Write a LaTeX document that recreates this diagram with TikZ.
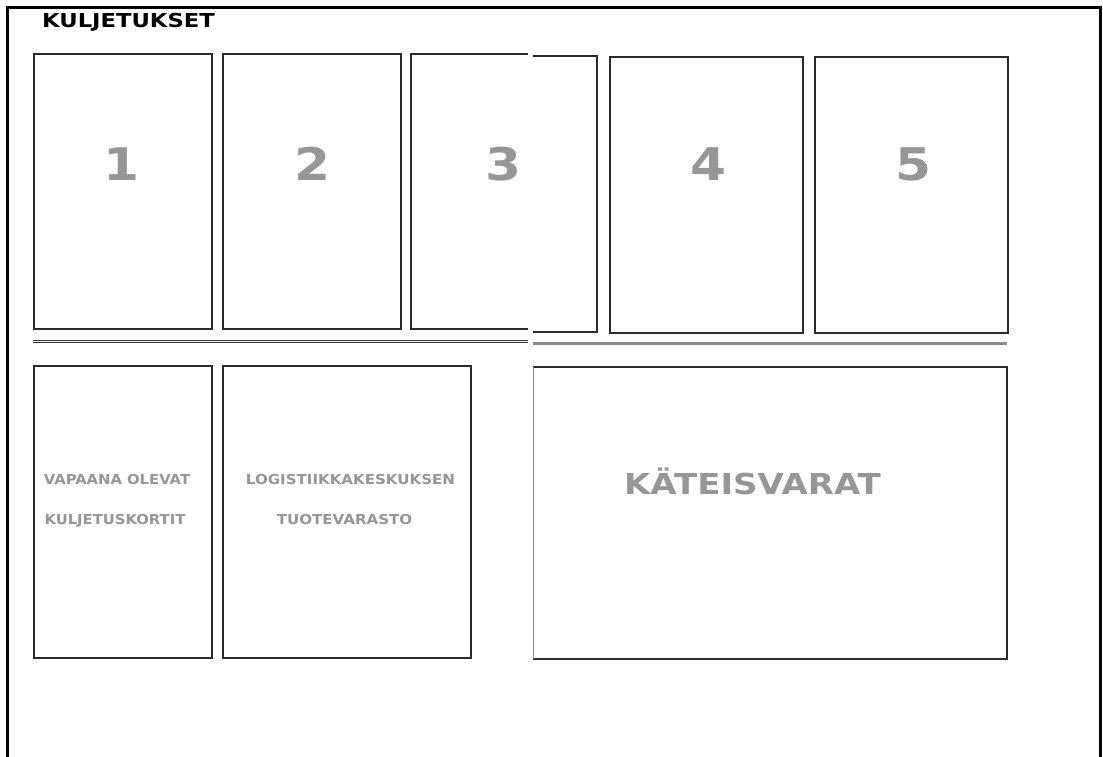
\documentclass[tikz,border=0pt]{standalone}
\usepackage{fontspec}
\setmainfont{DejaVu Sans}
\definecolor{boxline}{HTML}{2B2B2B}
\definecolor{txtgray}{HTML}{969696}
\definecolor{rulegray}{HTML}{8A8A8A}
\begin{document}
\begin{tikzpicture}[x=1pt,y=-1pt,
  cell/.style={draw=boxline,line width=2pt,anchor=north west,inner sep=0pt},
  num/.style={text=txtgray,anchor=base,inner sep=0pt,font=\bfseries\fontsize{45}{45}\selectfont},
  lbl/.style={text=txtgray,anchor=base,inner sep=0pt,font=\bfseries\fontsize{13.7}{14}\selectfont},
  big/.style={text=txtgray,anchor=base,inner sep=0pt,font=\bfseries\fontsize{28.8}{29}\selectfont},
  title/.style={text=black,anchor=base,inner sep=0pt,font=\bfseries\fontsize{19.2}{20}\selectfont}]
\useasboundingbox (0,0) rectangle (1103,756);
\fill[white] (0,0) rectangle (1103,756);
% outer frame
\draw[black,line width=3pt] (7.5,760) -- (7.5,7) -- (1100,7) -- (1100,760);
% title
\node[title] (title) at (128.5,27) {\scalebox{1.18}[1]{KULJETUKSET}};
% top row boxes
\node[cell,minimum width=178,minimum height=275] (b1) at (33,53) {};
\node[cell,minimum width=178,minimum height=275] (b2) at (222,53) {};
\node[cell,minimum width=193,minimum height=276] (b4) at (609,56) {};
\node[cell,minimum width=193,minimum height=276] (b5) at (814,56) {};
% split box 3
\coordinate (b3a) at (527.5,54);
\coordinate (b3b) at (411,54);
\coordinate (b3c) at (411,329);
\coordinate (b3d) at (527.5,329);
\draw[boxline,line width=2pt] (b3a) -- (b3b) -- (b3c) -- (b3d);
\coordinate (b3e) at (533,55.5);
\coordinate (b3f) at (597,55.5);
\coordinate (b3g) at (597,332);
\coordinate (b3h) at (533,332);
\draw[boxline,line width=2pt] (b3e) -- (b3f) -- (b3g) -- (b3h);
% numbers
\node[num] (n1) at (122,180) {\scalebox{1.15}[1]{1}};
\node[num] (n2) at (313,180) {\scalebox{1.15}[1]{2}};
\node[num] (n3) at (503,180) {\scalebox{1.15}[1]{3}};
\node[num] (n4) at (708.5,180) {\scalebox{1.15}[1]{4}};
\node[num] (n5) at (913,180) {\scalebox{1.15}[1]{5}};
% separators
\coordinate (s1a) at (33,340.6);
\coordinate (s1b) at (527.5,340.6);
\coordinate (s2a) at (33,342.6);
\coordinate (s2b) at (527.5,342.6);
\draw[boxline,line width=1pt] (s1a) -- (s1b);
\draw[boxline,line width=0.8pt] (s2a) -- (s2b);
\coordinate (s3a) at (533,343.5);
\coordinate (s3b) at (1007,343.5);
\draw[rulegray,line width=3pt] (s3a) -- (s3b);
% bottom boxes
\node[cell,minimum width=178,minimum height=292] (ba) at (33,365) {};
\node[cell,minimum width=248,minimum height=292] (bb) at (222,365) {};
\coordinate (c1) at (533,367);
\coordinate (c2) at (1006.5,367);
\coordinate (c3) at (1006.5,659);
\coordinate (c4) at (533,659);
\draw[boxline,line width=2pt] (c4) -- (c3) -- (c2) -- (c1);
\draw[rulegray,line width=1pt] (c1) -- (c4);
% labels
\node[lbl] (t1) at (117,484) {\scalebox{1.08}[1]{VAPAANA OLEVAT}};
\node[lbl] (t2) at (115,524) {\scalebox{1.08}[1]{KULJETUSKORTIT}};
\node[lbl] (t3) at (350.5,484) {\scalebox{1.1}[1]{LOGISTIIKKAKESKUKSEN}};
\node[lbl] (t4) at (344.5,524) {\scalebox{1.1}[1]{TUOTEVARASTO}};
\node[big] (t5) at (752.5,494) {\scalebox{1.18}[1]{KÄTEISVARAT}};
\end{tikzpicture}
\end{document}
